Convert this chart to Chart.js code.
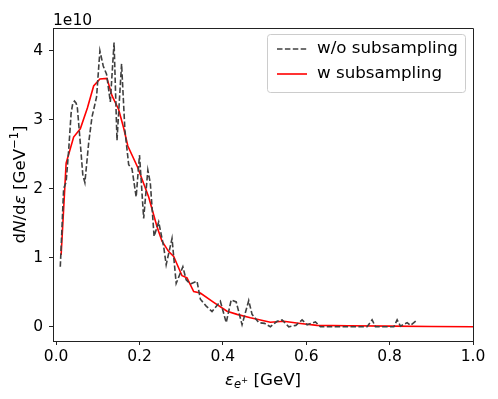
<!DOCTYPE html>
<html>
<head>
<meta charset="utf-8">
<script src="https://cdn.jsdelivr.net/npm/chart.js@4"></script>
<style>
  html, body { margin: 0; padding: 0; background: #fff; }
</style>
</head>
<body>
<canvas id="spectrum" width="498" height="399"></canvas>
<script>
// energy spectra, N in units of 1e10 per GeV
const rawE = [0.010, 0.018, 0.024, 0.030, 0.036, 0.040, 0.044, 0.048, 0.051, 0.058, 0.064, 0.069, 0.078, 0.086, 0.097,
              0.105, 0.113, 0.121, 0.130, 0.139, 0.146, 0.157, 0.165, 0.174, 0.182, 0.192, 0.200, 0.210, 0.220, 0.226,
              0.235, 0.246, 0.258, 0.264, 0.278, 0.288, 0.304, 0.312, 0.322, 0.338, 0.346, 0.360, 0.374, 0.394, 0.408,
              0.420, 0.432, 0.446, 0.462, 0.470, 0.486, 0.500, 0.514, 0.530, 0.542, 0.558, 0.575, 0.590, 0.602, 0.622,
              0.634, 0.660, 0.700, 0.746, 0.758, 0.766, 0.810, 0.818, 0.826, 0.842, 0.850, 0.866];
const rawN = [0.87, 2.00, 2.10, 2.55, 3.10, 3.24, 3.27, 3.24, 3.17, 2.66, 2.20, 2.09, 2.66, 3.04, 3.33,
              4.00, 3.78, 3.66, 3.26, 4.12, 2.70, 3.81, 2.85, 2.35, 2.29, 1.88, 2.49, 1.57, 2.27, 2.08,
              1.31, 1.52, 1.16, 0.90, 1.28, 0.63, 0.87, 0.68, 0.62, 0.66, 0.40, 0.30, 0.22, 0.37, 0.06,
              0.39, 0.36, 0.03, 0.38, 0.18, 0.06, 0.05, 0.00, 0.08, 0.10, 0.00, 0.02, 0.10, 0.03, 0.07,
              0.00, 0.00, 0.00, 0.00, 0.10, 0.00, 0.00, 0.10, 0.01, 0.06, 0.02, 0.10];

const subE = [0.012, 0.024, 0.042, 0.058, 0.075, 0.090, 0.105, 0.122, 0.134, 0.150, 0.162, 0.172, 0.195, 0.222, 0.242,
              0.254, 0.270, 0.282, 0.302, 0.314, 0.330, 0.346, 0.378, 0.410, 0.434, 0.466, 0.514, 0.546, 0.586, 0.626,
              0.700, 0.800, 0.900, 1.000];
const subN = [1.04, 2.37, 2.75, 2.87, 3.17, 3.49, 3.59, 3.60, 3.35, 3.15, 2.88, 2.62, 2.32, 1.88, 1.45,
              1.24, 1.09, 1.02, 0.74, 0.71, 0.51, 0.49, 0.355, 0.225, 0.18, 0.13, 0.066, 0.08, 0.048, 0.02,
              0.015, 0.01, 0.005, 0.0];

const seriesNames = ['w/o subsampling', 'w subsampling'];
const xTicks = [0.0, 0.2, 0.4, 0.6, 0.8, 1.0];
const yTicks = [0, 1, 2, 3, 4];
const yOffsetLabel = '1e10';

const FONT = 'DejaVu Sans';
const TICK_SIZE = 15.5;
const LABEL_SIZE = 16.7;

function toPoints(xs, ys) {
    return xs.map((x, i) => ({ x: x, y: ys[i] }));
}

// draw a run of text pieces (some italic / raised) centred on x
function drawRich(ctx, parts, x, y) {
    let total = 0;
    parts.forEach(p => {
        ctx.font = (p.italic ? 'italic ' : '') + p.size + 'px "' + FONT + '"';
        p.w = ctx.measureText(p.t).width;
        total += p.w;
    });
    let cx = x - total / 2;
    parts.forEach(p => {
        ctx.font = (p.italic ? 'italic ' : '') + p.size + 'px "' + FONT + '"';
        ctx.fillText(p.t, cx, y + (p.dy || 0));
        cx += p.w;
    });
}

const framePlugin = {
    id: 'frame',
    afterDraw(chart) {
        const ctx = chart.ctx;
        const a = chart.chartArea;
        ctx.save();

        // top and right spines
        ctx.strokeStyle = '#222';
        ctx.lineWidth = 1;
        ctx.beginPath();
        ctx.moveTo(a.left, a.top + 0.5);
        ctx.lineTo(a.right + 0.5, a.top + 0.5);
        ctx.lineTo(a.right + 0.5, a.bottom);
        ctx.stroke();

        ctx.fillStyle = '#000';
        ctx.textBaseline = 'alphabetic';
        ctx.textAlign = 'left';

        // offset text
        ctx.font = TICK_SIZE + 'px "' + FONT + '"';
        ctx.fillText(yOffsetLabel, a.left, a.top - 3);

        // x axis label
        drawRich(ctx, [
            { t: 'ε', italic: true, size: LABEL_SIZE },
            { t: 'e', italic: true, size: 11.5, dy: 3 },
            { t: '+', italic: false, size: 8.5, dy: -2 },
            { t: ' [GeV]', italic: false, size: LABEL_SIZE }
        ], (a.left + a.right) / 2, 385);

        // y axis label (rotated)
        ctx.save();
        ctx.translate(25, (a.top + a.bottom) / 2);
        ctx.rotate(-Math.PI / 2);
        drawRich(ctx, [
            { t: 'd', size: LABEL_SIZE },
            { t: 'N', italic: true, size: LABEL_SIZE },
            { t: '/d', size: LABEL_SIZE },
            { t: 'ε', italic: true, size: LABEL_SIZE },
            { t: ' [GeV', size: LABEL_SIZE },
            { t: '−1', size: 11.5, dy: -7 },
            { t: ']', size: LABEL_SIZE }
        ], 0, 0);
        ctx.restore();

        // legend
        const bx = 267, by = 34, bw = 198, bh = 58, r = 3;
        ctx.fillStyle = 'rgba(255,255,255,0.8)';
        ctx.strokeStyle = '#cccccc';
        ctx.beginPath();
        ctx.roundRect(bx + 0.5, by + 0.5, bw, bh, r);
        ctx.fill();
        ctx.stroke();

        const rows = [by + 15, by + 40];
        chart.data.datasets.forEach((ds, i) => {
            const ly = rows[i];
            ctx.strokeStyle = ds.borderColor;
            ctx.lineWidth = ds.borderWidth;
            ctx.setLineDash(ds.borderDash || []);
            ctx.beginPath();
            ctx.moveTo(bx + 10, ly);
            ctx.lineTo(bx + 40, ly);
            ctx.stroke();
            ctx.setLineDash([]);
            ctx.fillStyle = '#000';
            ctx.textBaseline = 'middle';
            ctx.font = LABEL_SIZE + 'px "' + FONT + '"';
            ctx.fillText(ds.label, bx + 50, ly);
        });

        ctx.restore();
    }
};

new Chart(document.getElementById('spectrum'), {
    type: 'line',
    data: {
        datasets: [
            {
                label: seriesNames[0],
                data: toPoints(rawE, rawN),
                borderColor: '#404040',
                borderWidth: 1.6,
                borderDash: [5.5, 2.4],
                pointRadius: 0,
                tension: 0,
                fill: false
            },
            {
                label: seriesNames[1],
                data: toPoints(subE, subN),
                borderColor: '#ff0000',
                borderWidth: 1.6,
                pointRadius: 0,
                tension: 0,
                fill: false
            }
        ]
    },
    options: {
        responsive: false,
        animation: false,
        devicePixelRatio: 1,
        layout: { padding: { top: 28, right: 25, left: 0, bottom: 0 } },
        plugins: {
            legend: { display: false },
            tooltip: { enabled: false }
        },
        scales: {
            x: {
                type: 'linear',
                min: -0.0075,
                max: 1.0,
                afterBuildTicks: s => { s.ticks = xTicks.map(v => ({ value: v })); },
                afterFit: s => { s.height = 58; },
                ticks: {
                    callback: v => v.toFixed(1),
                    color: '#000',
                    font: { family: FONT, size: TICK_SIZE },
                    padding: 3,
                    maxRotation: 0
                },
                grid: { drawOnChartArea: false, tickLength: 4, color: '#222' },
                border: { color: '#222', width: 1 }
            },
            y: {
                type: 'linear',
                min: -0.206,
                max: 4.33,
                afterBuildTicks: s => { s.ticks = yTicks.map(v => ({ value: v })); },
                afterFit: s => { s.width = 53; },
                ticks: {
                    callback: v => String(v),
                    color: '#000',
                    font: { family: FONT, size: TICK_SIZE },
                    padding: 6
                },
                grid: { drawOnChartArea: false, tickLength: 4, color: '#222' },
                border: { color: '#222', width: 1 }
            }
        }
    },
    plugins: [framePlugin]
});
</script>
</body>
</html>
